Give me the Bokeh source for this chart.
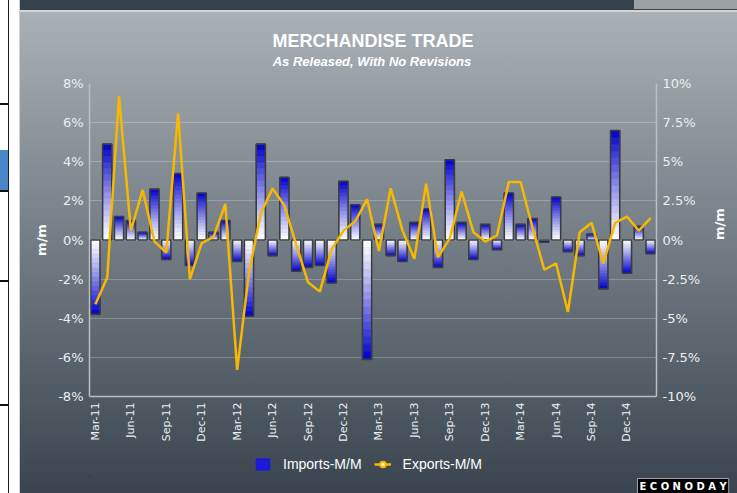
import numpy as np
from bokeh.plotting import figure
from bokeh.layouts import column
from bokeh.models import (Range1d, LinearAxis, FixedTicker, Legend, LegendItem, Label, Title)
from bokeh.embed import file_html
from bokeh.resources import INLINE

months = ["Mar-11", "Apr-11", "May-11", "Jun-11", "Jul-11", "Aug-11", "Sep-11", "Oct-11", "Nov-11", "Dec-11",
          "Jan-12", "Feb-12", "Mar-12", "Apr-12", "May-12", "Jun-12", "Jul-12", "Aug-12", "Sep-12", "Oct-12", "Nov-12", "Dec-12",
          "Jan-13", "Feb-13", "Mar-13", "Apr-13", "May-13", "Jun-13", "Jul-13", "Aug-13", "Sep-13", "Oct-13", "Nov-13", "Dec-13",
          "Jan-14", "Feb-14", "Mar-14", "Apr-14", "May-14", "Jun-14", "Jul-14", "Aug-14", "Sep-14", "Oct-14", "Nov-14", "Dec-14",
          "Jan-15", "Feb-15"]

imports_mm = [-3.8, 4.9, 1.2, 1.0, 0.4, 2.6, -1.0, 3.4, -1.3, 2.4,
              0.4, 1.0, -1.1, -3.9, 4.9, -0.8, 3.2, -1.6, -1.4, -1.3, -2.2, 3.0,
              1.8, -6.1, 0.8, -0.8, -1.1, 0.9, 1.6, -1.4, 4.1, 0.9, -1.0, 0.8,
              -0.5, 2.4, 0.8, 1.1, -0.1, 2.2, -0.6, -0.8, 0.3, -2.5, 5.6, -1.7,
              0.7, -0.7]

exports_mm = [-4.1, -2.4, 9.2, 0.6, 3.2, -0.1, -0.8, 8.1, -2.5, -0.2,
              0.2, 2.3, -8.3, -2.1, 1.7, 3.3, 2.2, -0.3, -2.7, -3.3, -0.6, 0.6,
              1.2, 2.6, -0.7, 3.3, 0.6, -1.2, 3.6, -1.1, 0.1, 3.1, 0.5, -0.1,
              0.3, 3.7, 3.7, 0.8, -1.9, -1.5, -4.6, 0.5, 1.1, -1.5, 1.1, 1.5,
              0.6, 1.4]

x_tick_idx = list(range(0, 48, 3))
left_ticks = [-8, -6, -4, -2, 0, 2, 4, 6, 8]
left_labels = ["-8%", "-6%", "-4%", "-2%", "0%", "2%", "4%", "6%", "8%"]
right_ticks = [-10, -7.5, -5, -2.5, 0, 2.5, 5, 7.5, 10]
right_labels = ["-10%", "-7.5%", "-5%", "-2.5%", "0%", "2.5%", "5%", "7.5%", "10%"]

title_text = "MERCHANDISE TRADE"
subtitle_text = "As Released, With No Revisions"
series_names = ["Imports-M/M", "Exports-M/M"]

x = np.arange(len(months))
imp = np.array(imports_mm)

TICK_FONT = "DejaVu Sans"
TXT_FONT = "Liberation Sans"
W = 737
FL, FR = 89, 659   # page x of the (aligned) plot frames


def clean(fig):
    fig.background_fill_alpha = 0
    fig.border_fill_alpha = 0
    fig.outline_line_color = None


# ---------- title strip ----------
t = figure(width=W, height=68, x_range=Range1d(FL, FR), y_range=Range1d(68, 0),
           output_backend="svg", toolbar_location=None,
           x_axis_location=None, y_axis_location=None,
           min_border=0, min_border_left=0, min_border_right=0, min_border_top=0, min_border_bottom=0)
clean(t)
t.grid.grid_line_color = None
t.add_layout(Label(x=374, y=40, text=title_text, text_align="center", text_baseline="middle",
                   text_color="white", text_font=TXT_FONT, text_font_style="bold",
                   text_font_size="18px"))
t.add_layout(Label(x=373, y=61, text=subtitle_text, text_align="center", text_baseline="middle",
                   text_color="white", text_font=TXT_FONT, text_font_style="bold italic",
                   text_font_size="13px"))

# ---------- main chart ----------
p = figure(width=W, height=377, x_range=Range1d(-0.5, len(months) - 0.5),
           y_range=Range1d(-8, 8), output_backend="svg", toolbar_location=None,
           min_border_left=89, min_border_right=78, min_border_top=15, min_border_bottom=49)
clean(p)
p.extra_y_ranges = {"exp": Range1d(-10, 10)}

N = 16
bar_w = 0.78
for k in range(N):
    tt = (k + 0.5) / N
    s = tt ** 1.15
    col = "#%02x%02x%02x" % (int(255 * (1 - s)), int(255 * (1 - s)), int(255 - 50 * s))
    p.vbar(x=x, bottom=imp * k / N, top=imp * (k + 1) / N, width=bar_w,
           fill_color=col, line_color=col, line_width=0.6)
p.vbar(x=x, bottom=0, top=imp, width=bar_w, fill_alpha=0,
       line_color="#3a3d40", line_width=1.6)

p.line(x, exports_mm, y_range_name="exp", line_color="#f6b800", line_width=2.5)

ax_col = "#b9bfc3"
lab_col = "#eceef0"

p.yaxis.ticker = FixedTicker(ticks=left_ticks)
p.yaxis.major_label_overrides = dict(zip(left_ticks, left_labels))
p.yaxis.axis_label = "m/m"

rax = LinearAxis(y_range_name="exp", ticker=FixedTicker(ticks=right_ticks),
                 major_label_overrides=dict(zip(right_ticks, right_labels)),
                 axis_label="m/m")
p.add_layout(rax, "right")

p.xaxis.ticker = FixedTicker(ticks=x_tick_idx)
p.xaxis.major_label_overrides = {i: months[i] for i in x_tick_idx}
p.xaxis.major_label_orientation = np.pi / 2

for ax in [p.yaxis[0], rax, p.xaxis[0]]:
    ax.axis_line_color = ax_col
    ax.axis_line_width = 1.5
    ax.major_tick_line_color = None
    ax.minor_tick_line_color = None
    ax.major_tick_out = 0
    ax.major_tick_in = 0
    ax.minor_tick_out = 0
    ax.major_label_text_color = lab_col
    ax.major_label_text_font = TICK_FONT
    ax.major_label_standoff = 6
    ax.axis_label_text_color = "white"
    ax.axis_label_text_font = TICK_FONT
    ax.axis_label_text_font_style = "bold"
    ax.axis_label_text_font_size = "13px"
p.yaxis[0].major_label_text_font_size = "13px"
rax.major_label_text_font_size = "13px"
p.xaxis[0].major_label_text_font_size = "11px"
p.yaxis[0].axis_label_standoff = 6
rax.axis_label_standoff = 16
if "axis_label_orientation" in rax.properties():
    rax.axis_label_orientation = np.pi / 2

p.ygrid.ticker = FixedTicker(ticks=left_ticks)
p.ygrid.grid_line_color = "#ffffff"
p.ygrid.grid_line_alpha = 0.22
p.xgrid.grid_line_color = None

# ---------- legend strip ----------
q = figure(width=W, height=48, x_range=Range1d(FL, FR), y_range=Range1d(48, 0),
           output_backend="svg", toolbar_location=None,
           x_axis_location=None, y_axis_location=None,
           min_border=0, min_border_left=0, min_border_right=0, min_border_top=0, min_border_bottom=0)
clean(q)
q.grid.grid_line_color = None
q.extra_y_ranges = {"hide": Range1d(1000, 1100)}
leg_bar = q.vbar(x=x, top=imp, width=0.78, y_range_name="hide",
                 fill_color="#1a1ad8", line_color="#1a1ad8")
leg_line = q.line(x, exports_mm, y_range_name="hide", line_color="#f6b800", line_width=2.5)
leg_pt = q.scatter(x, exports_mm, y_range_name="hide", marker="circle", size=7,
                   fill_color="#fff6cc", line_color="#f6b800", line_width=2)

legend = Legend(items=[LegendItem(label=series_names[0], renderers=[leg_bar]),
                       LegendItem(label=series_names[1], renderers=[leg_line, leg_pt])],
                orientation="horizontal", location=(161, 0), margin=0, padding=4,
                background_fill_alpha=0, border_line_alpha=0,
                label_text_color="white", label_text_font=TXT_FONT, label_text_font_size="14px",
                glyph_width=17, glyph_height=14, spacing=12, label_standoff=12)
q.add_layout(legend, "center")

q.add_layout(Title(text="E C O N O D A Y", align="left", offset=548, standoff=0,
                   text_color="white", text_font=TICK_FONT, text_font_size="10px",
                   text_font_style="bold", background_fill_color="black",
                   border_line_color="#9aa0a4", padding=2), "below")

bg_layers = [
    "linear-gradient(#9aa0a4, #9aa0a4) 634px 0px / 103px 9px no-repeat",
    "linear-gradient(#000000, #000000) 635px 0px / 102px 8px no-repeat",
    "linear-gradient(#4a86c8, #4a86c8) 0px 150px / 8px 40px no-repeat",
    "linear-gradient(#111111, #111111) 0px 103px / 9px 2px no-repeat",
    "linear-gradient(#111111, #111111) 0px 190px / 9px 2px no-repeat",
    "linear-gradient(#111111, #111111) 0px 280px / 9px 2px no-repeat",
    "linear-gradient(#111111, #111111) 0px 404px / 9px 2px no-repeat",
    "linear-gradient(to right, #ffffff 0px, #ffffff 8px, #1e1e1e 8px, #1e1e1e 9px, #ffffff 9px, #ffffff 19px, #cfd3d6 19px, #cfd3d6 20px, transparent 20px)",
    "linear-gradient(to bottom, #35424c 0px, #35424c 10px, #d3d6d8 10px, #d3d6d8 12px, #aab1b6 12px, #39444e 100%)",
]
layout = column(t, p, q, spacing=0, styles={"background": ", ".join(bg_layers)})

open("out.html", "w").write(file_html(layout, INLINE))
